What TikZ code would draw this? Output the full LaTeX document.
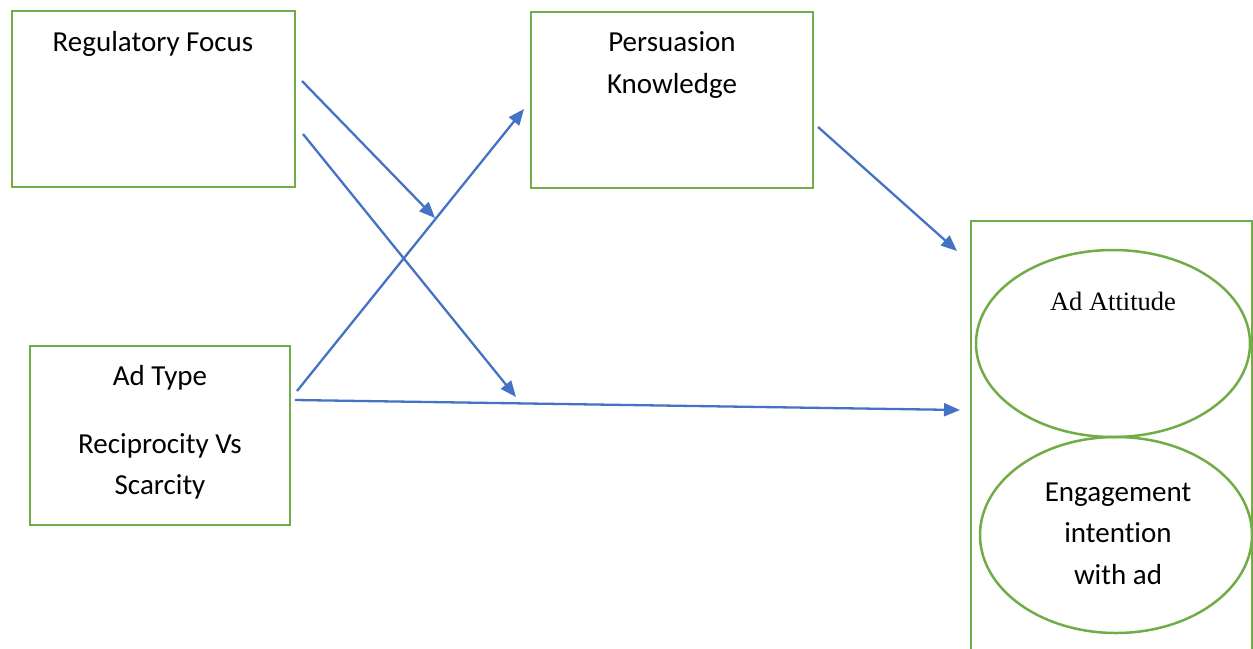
\documentclass[tikz,border=0pt]{standalone}
\usepackage{fontspec}
\setmainfont[Ligatures=NoCommon]{Carlito}
\newfontfamily\timesfont{Liberation Serif}
\usetikzlibrary{arrows.meta}
\definecolor{bgreen}{HTML}{70AD47}
\definecolor{ablue}{HTML}{4472C4}
\begin{document}
\begin{tikzpicture}[x=1pt,y=-1pt,
  gbox/.style={draw=bgreen,line width=2.5pt,fill=white},
  gell/.style={draw=bgreen,line width=2.5pt},
  lbl/.style={font=\fontsize{29}{34}\selectfont,inner sep=0pt,anchor=base},
  conn/.style={draw=ablue,line width=2.3pt,-{Triangle[length=16pt,width=13pt]}}]
\useasboundingbox (0,0) rectangle (1253,648);
% boxes
\draw[gbox] (12,11) rectangle (295,187);
\node[lbl] (rf) at (153,51) {Regulatory Focus};
\draw[gbox] (531,12) rectangle (813,188);
\node[lbl] (pk1) at (672,51) {Persuasion};
\node[lbl] (pk2) at (672,93) {Knowledge};
\draw[gbox] (30,346) rectangle (290,525);
\node[lbl] (at1) at (160,385) {Ad Type};
\node[lbl] (at2) at (160,453) {Reciprocity Vs};
\node[lbl] (at3) at (160,494) {Scarcity};
\draw[draw=bgreen,line width=2.5pt] (971,660) -- (971,221) -- (1252,221) -- (1252,660);
% ellipses
\draw[gell] (1113,343.5) ellipse [x radius=137,y radius=93.5];
\node[lbl,font=\timesfont\fontsize{26.5}{30}\selectfont] (aa) at (1113,310) {Ad Attitude};
\draw[gell] (1116,535) ellipse [x radius=136,y radius=98];
\node[lbl] (ei1) at (1118,501) {Engagement};
\node[lbl] (ei2) at (1118,542) {intention};
\node[lbl] (ei3) at (1118,584) {with ad};
% connector coordinates
\coordinate (a1s) at (302,81);  \coordinate (a1e) at (435,218);
\coordinate (a2s) at (303,134); \coordinate (a2e) at (516,397);
\coordinate (a3s) at (297,391); \coordinate (a3e) at (524,109);
\coordinate (a4s) at (295,400); \coordinate (a4e) at (960,410);
\coordinate (a5s) at (818,127); \coordinate (a5e) at (957,251);
\draw[conn] (a1s) -- (a1e);
\draw[conn] (a2s) -- (a2e);
\draw[conn] (a3s) -- (a3e);
\draw[conn] (a4s) -- (a4e);
\draw[conn] (a5s) -- (a5e);
\end{tikzpicture}
\end{document}
